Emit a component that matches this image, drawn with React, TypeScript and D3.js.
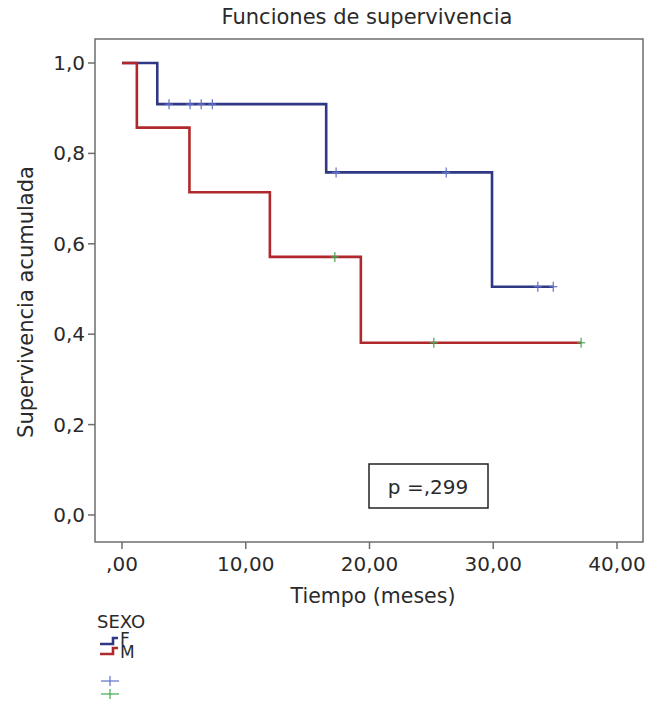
import React from "react";
import * as d3 from "d3";

const title = "Funciones de supervivencia";
const xLabel = "Tiempo (meses)";
const yLabel = "Supervivencia acumulada";
const xTicks = [0, 10, 20, 30, 40];
const xTickLabels = [",00", "10,00", "20,00", "30,00", "40,00"];
const yTicks = [0, 0.2, 0.4, 0.6, 0.8, 1.0];
const yTickLabels = ["0,0", "0,2", "0,4", "0,6", "0,8", "1,0"];

const groups = ["F", "M"];
const fEventTimes = [2.85, 16.5, 29.9];
const fSurvival = [0.909, 0.758, 0.505];
const fCensorTimes = [3.8, 5.5, 6.4, 7.3, 17.3, 26.2, 33.6, 34.85];
const fEnd = 34.85;

const mEventTimes = [1.2, 5.45, 11.95, 19.3];
const mSurvival = [0.857, 0.714, 0.571, 0.381];
const mCensorTimes = [17.2, 25.2, 37.1];
const mEnd = 37.1;

const pText = "p =,299";
const legendTitle = "SEXO";

const FONT = "'DejaVu Sans', Verdana, sans-serif";
const TXT = "#2a2a2a";

function stepPoints(times: number[], surv: number[], end: number): [number, number][] {
  const pts: [number, number][] = [[0, 1]];
  times.forEach((t, i) => pts.push([t, surv[i]]));
  pts.push([end, surv[surv.length - 1]]);
  return pts;
}
function survAt(t: number, times: number[], surv: number[]) {
  let s = 1;
  times.forEach((et, i) => {
    if (et <= t) s = surv[i];
  });
  return s;
}

export default function App() {
  const x = d3.scaleLinear().domain([0, 40]).range([122, 617]);
  const y = d3.scaleLinear().domain([0, 1]).range([515, 63]);
  const frame = { x0: 95, y0: 39, x1: 643, y1: 542 };

  const line = d3
    .line<[number, number]>()
    .x((d) => x(d[0]))
    .y((d) => y(d[1]))
    .curve(d3.curveStepAfter);

  const series = [
    { name: groups[0], times: fEventTimes, surv: fSurvival, cens: fCensorTimes, end: fEnd, color: "#2e3885", cColor: "#6070c8" },
    { name: groups[1], times: mEventTimes, surv: mSurvival, cens: mCensorTimes, end: mEnd, color: "#b0282c", cColor: "#40aa50" },
  ];

  return (
    <svg width={648} height={704} style={{ position: "absolute", left: 0, top: 0, background: "#fff" }}>
      <text x={367} y={24} textAnchor="middle" fontFamily={FONT} fontSize={21} fill={TXT}>
        {title}
      </text>
      <rect x={frame.x0} y={frame.y0} width={frame.x1 - frame.x0} height={frame.y1 - frame.y0} fill="none" stroke="#6e6e6e" strokeWidth={1.5} />
      {yTicks.map((v, i) => (
        <g key={"y" + i}>
          <line x1={frame.x0 - 7} x2={frame.x0} y1={y(v)} y2={y(v)} stroke="#6e6e6e" strokeWidth={1.5} />
          <text x={frame.x0 - 10} y={y(v) + 7} textAnchor="end" fontFamily={FONT} fontSize={20} fill={TXT}>
            {yTickLabels[i]}
          </text>
        </g>
      ))}
      {xTicks.map((v, i) => (
        <g key={"x" + i}>
          <line x1={x(v)} x2={x(v)} y1={frame.y1} y2={frame.y1 + 7} stroke="#6e6e6e" strokeWidth={1.5} />
          <text x={x(v)} y={571} textAnchor="middle" fontFamily={FONT} fontSize={20} fill={TXT}>
            {xTickLabels[i]}
          </text>
        </g>
      ))}
      <text x={373} y={603} textAnchor="middle" fontFamily={FONT} fontSize={20.5} fill={TXT}>
        {xLabel}
      </text>
      <text transform="translate(33,302) rotate(-90)" textAnchor="middle" fontFamily={FONT} fontSize={21} fill={TXT}>
        {yLabel}
      </text>

      {series.map((s) => (
        <g key={s.name}>
          <path d={line(stepPoints(s.times, s.surv, s.end)) || ""} fill="none" stroke={s.color} strokeWidth={2.6} />
        </g>
      ))}
      {series.map((s) => (
        <g key={s.name + "c"}>
          {s.cens.map((t, j) => {
            const cy = y(survAt(t, s.times, s.surv));
            return (
              <g key={j}>
                <line x1={x(t)} x2={x(t)} y1={cy - 5} y2={cy + 5} stroke={s.cColor} strokeWidth={1.2} />
                <line x1={x(t) - 4} x2={x(t) + 4} y1={cy} y2={cy} stroke={s.cColor} strokeWidth={1.2} />
              </g>
            );
          })}
        </g>
      ))}

      <rect x={369} y={464} width={119} height={44} fill="#fff" stroke="#222" strokeWidth={1.5} />
      <text x={428} y={494} textAnchor="middle" fontFamily={FONT} fontSize={20} fill={TXT}>
        {pText}
      </text>

      <text x={97} y={628} fontFamily={FONT} fontSize={18} fill={TXT}>
        {legendTitle}
      </text>
      {series.map((s, i) => {
        const by = 644 + i * 10;
        return (
          <g key={s.name + "leg"}>
            <path d={`M100,${by} H113 V${by - 6} H118`} fill="none" stroke={s.color} strokeWidth={2.6} />
            <text x={120} y={645 + i * 13} fontFamily={FONT} fontSize={17} fill={TXT}>
              {s.name}
            </text>
          </g>
        );
      })}
      {series.map((s, i) => {
        const cy = 681 + i * 13;
        return (
          <g key={s.name + "legc"}>
            <line x1={101} x2={119} y1={cy} y2={cy} stroke={s.cColor} strokeWidth={1.2} />
            <line x1={110} x2={110} y1={cy - 5} y2={cy + 5} stroke={s.cColor} strokeWidth={1.2} />
          </g>
        );
      })}
    </svg>
  );
}
